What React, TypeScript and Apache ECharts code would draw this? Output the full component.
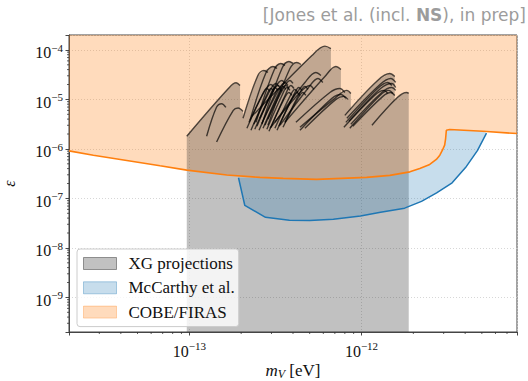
import React, { useEffect, useRef } from 'react';
import * as echarts from 'echarts';

const X_MIN = 2e-14;
const X_MAX = 8e-12;
const Y_MIN = 2e-10;
const Y_MAX = 2e-4;

const legendNames = ['XG projections', 'McCarthy et al.', 'COBE/FIRAS'];
const titleText = ['[Jones et al. (incl. ', 'NS', '), in prep]'];

// COBE/FIRAS limit (orange)
const cobeLine: [number, number][] = [
  [2.0e-14, 9.11e-7], [2.77e-14, 7.47e-7], [4.33e-14, 5.84e-7], [6.76e-14, 4.55e-7],
  [9.66e-14, 3.73e-7], [1.65e-13, 2.96e-7], [2.57e-13, 2.66e-7], [3.51e-13, 2.54e-7],
  [5.48e-13, 2.42e-7], [1.07e-12, 2.66e-7], [1.46e-12, 2.92e-7], [1.91e-12, 3.44e-7],
  [2.18e-12, 4.03e-7], [2.49e-12, 4.85e-7], [2.72e-12, 6.12e-7], [2.85e-12, 7.47e-7],
  [2.95e-12, 9.41e-7], [3.04e-12, 1.19e-6], [3.08e-12, 1.62e-6], [3.11e-12, 2.38e-6],
  [3.25e-12, 2.46e-6], [5.07e-12, 2.27e-6], [8.0e-12, 2.04e-6],
];

// McCarthy et al. lower boundary (blue)
const mccarthyLine: [number, number][] = [
  [1.93e-13, 2.61e-7], [2.10e-13, 7.2e-8], [2.77e-13, 4.15e-8], [3.81e-13, 3.61e-8],
  [5.0e-13, 3.56e-8], [6.86e-13, 3.78e-8], [9.86e-13, 4.42e-8], [1.29e-12, 5.25e-8],
  [1.78e-12, 6.35e-8], [2.23e-12, 8.7e-8], [2.73e-12, 1.29e-7], [3.36e-12, 2.06e-7],
  [4.02e-12, 4.19e-7], [4.71e-12, 9.2e-7], [5.32e-12, 2.08e-6],
];

// XG projections: outer silhouette of the shaded region
const xgEnvelope: [number, number][] = [
  [9.66e-14, 2e-10], [9.66e-14, 1.80e-6], [1.68e-13, 1.64e-5], [1.87e-13, 2.17e-5],
  [1.97e-13, 1.91e-5], [1.97e-13, 6.29e-6], [2.05e-13, 5.73e-6], [2.05e-13, 4.15e-6],
  [2.50e-13, 3.04e-5], [2.71e-13, 3.83e-5], [3.06e-13, 4.61e-5], [3.40e-13, 5.30e-5],
  [3.79e-13, 5.82e-5], [4.21e-13, 5.55e-5], [4.45e-13, 4.83e-5], [5.15e-13, 7.68e-5],
  [5.73e-13, 1.09e-4], [6.13e-13, 1.19e-4], [6.64e-13, 1.06e-4], [6.64e-13, 3.83e-5],
  [7.10e-13, 4.61e-5], [7.59e-13, 4.01e-5], [7.59e-13, 1.32e-5], [8.22e-13, 1.52e-5],
  [8.67e-13, 1.32e-5], [8.67e-13, 6.29e-6], [1.24e-12, 2.41e-5], [1.46e-12, 3.33e-5],
  [1.56e-12, 2.90e-5], [1.56e-12, 9.55e-6], [1.62e-12, 1.10e-5], [1.83e-12, 1.38e-5],
  [1.88e-12, 1.32e-5], [1.88e-12, 2e-10],
];

// XG projections: individual projection curves
const xgCurves: [number, number][][] = [
  [[9.66e-14, 1.80e-6], [1.68e-13, 1.64e-5], [1.87e-13, 2.17e-5], [1.97e-13, 1.91e-5]],
  [[1.26e-13, 1.80e-6], [1.44e-13, 7.00e-6], [1.54e-13, 8.19e-6], [1.63e-13, 6.90e-6]],
  [[1.44e-13, 1.38e-6], [1.80e-13, 6.01e-6], [1.92e-13, 6.68e-6], [2.05e-13, 5.73e-6]],
  [[2.05e-13, 4.15e-6], [2.50e-13, 3.04e-5], [2.71e-13, 3.83e-5], [2.86e-13, 3.49e-5]],
  [[2.25e-13, 3.78e-6], [2.79e-13, 3.49e-5], [3.06e-13, 4.61e-5], [3.23e-13, 4.20e-5]],
  [[2.44e-13, 3.44e-6], [3.10e-13, 3.83e-5], [3.40e-13, 5.30e-5], [3.59e-13, 4.83e-5]],
  [[2.64e-13, 3.14e-6], [3.45e-13, 4.20e-5], [3.79e-13, 5.82e-5], [4.00e-13, 5.30e-5]],
  [[2.86e-13, 3.00e-6], [3.84e-13, 4.20e-5], [4.21e-13, 5.55e-5], [4.45e-13, 5.06e-5]],
  [[2.31e-13, 4.55e-6], [5.15e-13, 7.68e-5], [6.13e-13, 1.19e-4], [6.64e-13, 1.06e-4]],
  [[3.59e-13, 3.44e-6], [6.13e-13, 2.90e-5], [7.10e-13, 4.61e-5], [7.59e-13, 4.01e-5]],
  [[4.39e-13, 2.73e-6], [7.00e-13, 1.05e-5], [8.22e-13, 1.52e-5], [8.67e-13, 1.32e-5]],
  [[2.16e-13, 2.61e-6], [2.64e-13, 1.20e-5], [2.82e-13, 1.66e-5], [2.94e-13, 1.45e-5]],
  [[2.28e-13, 2.38e-6], [2.79e-13, 1.15e-5], [2.98e-13, 1.66e-5], [3.10e-13, 1.45e-5]],
  [[2.40e-13, 2.49e-6], [2.94e-13, 1.20e-5], [3.14e-13, 1.74e-5], [3.27e-13, 1.52e-5]],
  [[2.54e-13, 2.38e-6], [3.10e-13, 1.15e-5], [3.31e-13, 1.66e-5], [3.45e-13, 1.45e-5]],
  [[2.68e-13, 2.61e-6], [3.27e-13, 1.26e-5], [3.50e-13, 1.83e-5], [3.64e-13, 1.59e-5]],
  [[2.82e-13, 2.49e-6], [3.45e-13, 1.20e-5], [3.69e-13, 1.74e-5], [3.84e-13, 1.52e-5]],
  [[2.98e-13, 2.73e-6], [3.64e-13, 1.32e-5], [3.89e-13, 1.91e-5], [4.05e-13, 1.66e-5]],
  [[3.14e-13, 2.61e-6], [3.84e-13, 1.15e-5], [4.10e-13, 1.59e-5], [4.27e-13, 1.38e-5]],
  [[3.31e-13, 2.86e-6], [4.05e-13, 1.26e-5], [4.33e-13, 1.74e-5], [4.51e-13, 1.52e-5]],
  [[2.37e-13, 3.14e-6], [2.94e-13, 1.52e-5], [3.18e-13, 2.10e-5], [3.31e-13, 1.83e-5]],
  [[2.64e-13, 3.29e-6], [3.31e-13, 1.59e-5], [3.59e-13, 2.20e-5], [3.74e-13, 1.91e-5]],
  [[3.50e-13, 2.73e-6], [4.27e-13, 1.05e-5], [4.57e-13, 1.38e-5], [4.75e-13, 1.20e-5]],
  [[2.22e-13, 3.44e-6], [2.75e-13, 1.52e-5], [2.98e-13, 2.00e-5], [3.10e-13, 1.74e-5]],
  [[2.47e-13, 2.86e-6], [3.02e-13, 1.38e-5], [3.27e-13, 1.91e-5], [3.40e-13, 1.66e-5]],
  [[2.75e-13, 3.00e-6], [3.36e-13, 1.38e-5], [3.64e-13, 1.91e-5], [3.79e-13, 1.66e-5]],
  [[2.90e-13, 2.27e-6], [3.54e-13, 1.00e-5], [3.79e-13, 1.38e-5], [3.94e-13, 1.20e-5]],
  [[3.23e-13, 2.38e-6], [3.94e-13, 1.00e-5], [4.21e-13, 1.38e-5], [4.39e-13, 1.20e-5]],
  [[2.57e-13, 4.15e-6], [3.18e-13, 1.83e-5], [3.45e-13, 2.41e-5], [3.59e-13, 2.10e-5]],
  [[2.86e-13, 3.96e-6], [3.54e-13, 1.74e-5], [3.84e-13, 2.41e-5], [4.00e-13, 2.10e-5]],
  [[3.59e-13, 3.44e-6], [4.39e-13, 1.38e-5], [4.69e-13, 1.83e-5], [4.88e-13, 1.59e-5]],
  [[3.14e-13, 3.44e-6], [4.69e-13, 2.20e-5], [5.43e-13, 3.49e-5], [5.81e-13, 3.04e-5]],
  [[3.36e-13, 3.00e-6], [4.88e-13, 1.66e-5], [5.58e-13, 2.65e-5], [5.96e-13, 2.20e-5]],
  [[2.94e-13, 2.61e-6], [4.39e-13, 1.38e-5], [5.01e-13, 1.91e-5], [5.29e-13, 1.59e-5]],
  [[4.16e-13, 3.44e-6], [6.55e-13, 1.38e-5], [7.48e-13, 1.66e-5], [8.00e-13, 1.38e-5]],
  [[4.39e-13, 2.38e-6], [6.73e-13, 1.05e-5], [7.59e-13, 1.26e-5], [8.11e-13, 1.05e-5]],
  [[4.69e-13, 2.61e-6], [7.10e-13, 1.00e-5], [7.90e-13, 1.15e-5], [8.33e-13, 1.00e-5]],
  [[8.00e-13, 4.76e-6], [1.24e-12, 2.41e-5], [1.46e-12, 3.33e-5], [1.56e-12, 2.90e-5]],
  [[8.22e-13, 4.15e-6], [1.28e-12, 2.00e-5], [1.48e-12, 2.65e-5], [1.58e-12, 2.20e-5]],
  [[8.44e-13, 3.61e-6], [1.29e-12, 1.66e-5], [1.50e-12, 2.10e-5], [1.58e-12, 1.74e-5]],
  [[8.67e-13, 3.14e-6], [1.31e-12, 1.38e-5], [1.50e-12, 1.74e-5], [1.58e-12, 1.52e-5]],
  [[7.90e-13, 2.73e-6], [1.19e-12, 1.20e-5], [1.35e-12, 1.52e-5], [1.42e-12, 1.32e-5]],
  [[8.90e-13, 2.86e-6], [1.33e-12, 1.15e-5], [1.48e-12, 1.38e-5], [1.56e-12, 1.20e-5]],
  [[8.11e-13, 3.44e-6], [1.24e-12, 1.66e-5], [1.42e-12, 2.20e-5], [1.50e-12, 1.91e-5]],
  [[8.55e-13, 2.61e-6], [1.28e-12, 1.20e-5], [1.44e-12, 1.52e-5], [1.52e-12, 1.32e-5]],
  [[1.15e-12, 3.00e-6], [1.62e-12, 1.10e-5], [1.83e-12, 1.38e-5], [1.88e-12, 1.32e-5]],
];

const xMinorTicks = [
  3e-14, 4e-14, 5e-14, 6e-14, 7e-14, 8e-14, 9e-14,
  2e-13, 3e-13, 4e-13, 5e-13, 6e-13, 7e-13, 8e-13, 9e-13,
  2e-12, 3e-12, 4e-12, 5e-12, 6e-12, 7e-12,
];
const yMinorTicks = [
  3e-10, 4e-10, 5e-10, 6e-10, 7e-10, 8e-10, 9e-10,
  2e-9, 3e-9, 4e-9, 5e-9, 6e-9, 7e-9, 8e-9, 9e-9,
  2e-8, 3e-8, 4e-8, 5e-8, 6e-8, 7e-8, 8e-8, 9e-8,
  2e-7, 3e-7, 4e-7, 5e-7, 6e-7, 7e-7, 8e-7, 9e-7,
  2e-6, 3e-6, 4e-6, 5e-6, 6e-6, 7e-6, 8e-6, 9e-6,
  2e-5, 3e-5, 4e-5, 5e-5, 6e-5, 7e-5, 8e-5, 9e-5,
];

const SERIF = 'Liberation Serif';
const SANS = 'DejaVu Sans';
const XG_FILL = 'rgba(40,40,40,0.29)';
const MC_FILL = 'rgba(31,119,180,0.25)';
const COBE_FILL = 'rgba(255,127,14,0.28)';

const tickFmt = (v: number) => {
  const l = Math.log10(v);
  const e = Math.round(l);
  if (Math.abs(l - e) > 1e-3) return '';
  return `{b|10}{s|\u2212${-e}}`;
};
const tickRich = {
  b: { fontFamily: SERIF, fontSize: 16, lineHeight: 22, color: '#111' },
  s: { fontFamily: SERIF, fontSize: 11, lineHeight: 22, padding: [0, 0, 10, 0], color: '#111' },
};

function polygonSeries(name: string, pts: [number, number][], fill: string, z: number) {
  return {
    type: 'custom',
    name,
    z,
    silent: true,
    clip: true,
    itemStyle: { color: fill },
    data: [pts[0]],
    renderItem: (_p: any, api: any) => ({
      type: 'polygon',
      shape: { points: pts.map((p) => api.coord(p)) },
      style: { fill },
    }),
  };
}

export default function App() {
  const ref = useRef<HTMLDivElement>(null);
  useEffect(() => {
    if (!ref.current) return;
    const chart = echarts.init(ref.current, undefined, { renderer: 'svg' });

    const cobePoly: [number, number][] = [...cobeLine, [X_MAX, Y_MAX], [X_MIN, Y_MAX]];
    const mcStart = mccarthyLine[0][0];
    const mcEnd = mccarthyLine[mccarthyLine.length - 1][0];
    const mcPoly: [number, number][] = [
      ...mccarthyLine,
      ...cobeLine.filter((p) => p[0] > mcStart && p[0] < mcEnd).reverse(),
    ];

    const curveSeries = xgCurves.map((c, i) => ({
      type: 'line',
      name: 'xg-curve-' + i,
      data: c,
      smooth: 0.35,
      showSymbol: false,
      silent: true,
      z: 4,
      lineStyle: { color: 'rgba(0,0,0,0.68)', width: 1.4 },
    }));

    chart.setOption({
      animation: false,
      title: {
        text: `{a|${titleText[0]}}{b|${titleText[1]}}{a|${titleText[2]}}`,
        right: 2,
        top: 6,
        padding: 0,
        textStyle: {
          fontWeight: 'normal',
          rich: {
            a: { fontFamily: SANS, fontSize: 17, fontWeight: 'normal', color: '#9c9c9c' },
            b: { fontFamily: SANS, fontSize: 17, fontWeight: 'bold', color: '#9c9c9c' },
          },
        },
      },
      grid: {
        left: 69,
        right: 11,
        top: 35,
        bottom: 49,
        containLabel: false,
        outerBoundsMode: 'none',
        show: true,
        borderColor: '#444',
        borderWidth: 1,
      },
      legend: {
        orient: 'vertical',
        left: 77,
        top: 249,
        selectedMode: false,
        itemWidth: 33,
        itemHeight: 12,
        itemGap: 7.3,
        padding: [6, 4, 6, 6],
        backgroundColor: 'rgba(255,255,255,0.8)',
        borderColor: '#cccccc',
        borderWidth: 1,
        borderRadius: 3,
        textStyle: { fontFamily: SERIF, fontSize: 17, lineHeight: 16, color: '#111', padding: [0, 0, 0, 7] },
        data: [
          { name: legendNames[0], icon: 'rect', itemStyle: { color: XG_FILL, borderColor: 'rgba(40,40,40,0.45)', borderWidth: 1 } },
          { name: legendNames[1], icon: 'rect', itemStyle: { color: MC_FILL, borderColor: 'rgba(31,119,180,0.35)', borderWidth: 1 } },
          { name: legendNames[2], icon: 'rect', itemStyle: { color: COBE_FILL, borderColor: 'rgba(255,127,14,0.3)', borderWidth: 1 } },
        ],
      },
      xAxis: {
        type: 'log',
        logBase: 10,
        min: X_MIN,
        max: X_MAX,
        name: '{i|m}{s|V}{n| [eV]}',
        nameLocation: 'middle',
        nameGap: 28,
        nameMoveOverlap: false,
        nameTextStyle: {
          rich: {
            i: { fontFamily: SERIF, fontStyle: 'italic', fontSize: 17, lineHeight: 20, color: '#111' },
            s: { fontFamily: SERIF, fontStyle: 'italic', fontSize: 12, lineHeight: 20, padding: [8, 0, 0, 0], color: '#111' },
            n: { fontFamily: SERIF, fontSize: 17, lineHeight: 20, color: '#111' },
          },
        },
        axisLine: { onZero: false, lineStyle: { color: '#444', width: 1 } },
        axisTick: { length: 3.5, lineStyle: { color: '#333', width: 0.9 } },
        axisLabel: { formatter: tickFmt, margin: 8, rich: tickRich },
        splitLine: { show: true, lineStyle: { type: [1, 2], color: '#cdcdcd', width: 0.8 } },
      },
      yAxis: {
        type: 'log',
        logBase: 10,
        min: Y_MIN,
        max: Y_MAX,
        name: '\u03b5',
        nameLocation: 'middle',
        nameRotate: 90,
        nameGap: 52,
        nameMoveOverlap: false,
        nameTextStyle: { fontFamily: SERIF, fontStyle: 'italic', fontSize: 16, color: '#111' },
        axisLine: { onZero: false, lineStyle: { color: '#444', width: 1 } },
        axisTick: { length: 3.5, lineStyle: { color: '#333', width: 0.9 } },
        axisLabel: { formatter: tickFmt, margin: 6, rich: tickRich, padding: [6, 0, 0, 0] },
        splitLine: { show: true, lineStyle: { type: [1, 2], color: '#cdcdcd', width: 0.8 } },
      },
      series: [
        polygonSeries(legendNames[2], cobePoly, COBE_FILL, 1),
        polygonSeries(legendNames[0], xgEnvelope, XG_FILL, 2),
        polygonSeries(legendNames[1], mcPoly, MC_FILL, 3),
        ...curveSeries,
        {
          type: 'line',
          name: 'cobe-line',
          data: cobeLine,
          showSymbol: false,
          silent: true,
          z: 5,
          lineStyle: { color: '#ff7f0e', width: 1.6 },
        },
        {
          type: 'line',
          name: 'mccarthy-line',
          data: mccarthyLine,
          showSymbol: false,
          silent: true,
          z: 5,
          lineStyle: { color: '#1f77b4', width: 1.5 },
        },
        {
          type: 'custom',
          name: 'x-minor-ticks',
          silent: true,
          clip: false,
          z: 6,
          data: xMinorTicks.map((v) => [v, Y_MIN]),
          renderItem: (_p: any, api: any) => {
            const p = api.coord([api.value(0), api.value(1)]);
            return {
              type: 'line',
              shape: { x1: p[0], y1: p[1], x2: p[0], y2: p[1] + 2 },
              style: { stroke: '#333', lineWidth: 0.8 },
            };
          },
        },
        {
          type: 'custom',
          name: 'y-minor-ticks',
          silent: true,
          clip: false,
          z: 6,
          data: yMinorTicks.map((v) => [X_MIN, v]),
          renderItem: (_p: any, api: any) => {
            const p = api.coord([api.value(0), api.value(1)]);
            return {
              type: 'line',
              shape: { x1: p[0] - 2, y1: p[1], x2: p[0], y2: p[1] },
              style: { stroke: '#333', lineWidth: 0.8 },
            };
          },
        },
      ],
    });
    return () => chart.dispose();
  }, []);
  return (
    <div
      ref={ref}
      style={{ position: 'absolute', left: 0, top: 0, width: 528, height: 381, background: '#fff' }}
    />
  );
}
